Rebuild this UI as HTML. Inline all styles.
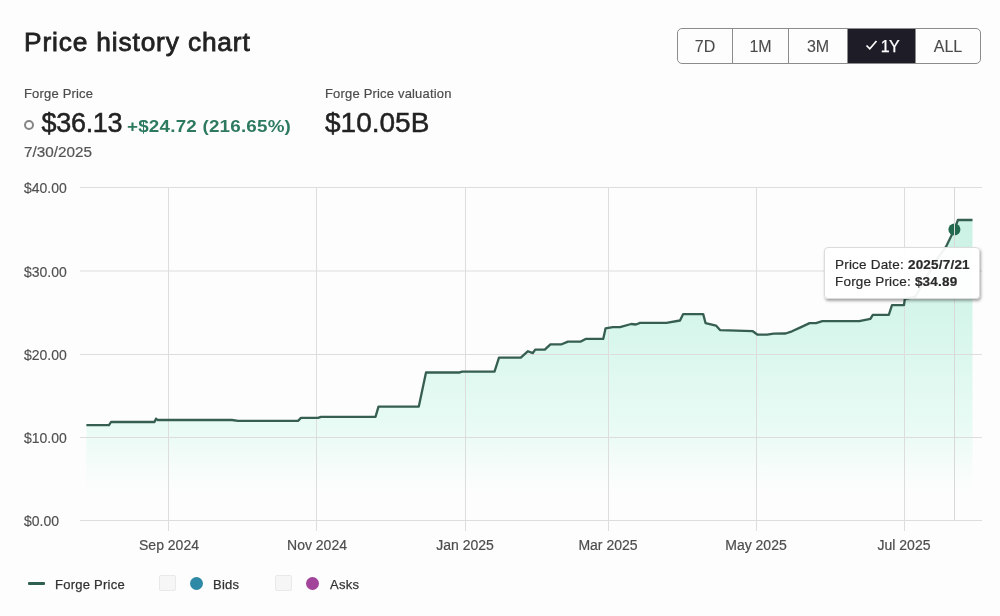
<!DOCTYPE html>
<html><head><meta charset="utf-8">
<style>
*{margin:0;padding:0;box-sizing:border-box}
html,body{width:1000px;height:616px;overflow:hidden;background:#fdfdfd}
body{font-family:"Liberation Sans",Arial,sans-serif;color:#222;position:relative}
.abs{position:absolute;white-space:nowrap}
#title{left:24px;top:25.5px;font-size:26.3px;letter-spacing:0.85px;color:#222;-webkit-text-stroke:0.8px #222;line-height:32px}
.lbl{font-size:13px;letter-spacing:0.18px;color:#4d4d4d;line-height:16px;-webkit-text-stroke:0.2px #4d4d4d}
#fp{left:24px;top:86px}
#fpv{left:325px;top:86px}
#ring{left:24px;top:120px;width:10px;height:10px;border:2px solid #858585;border-radius:50%}
#price{left:41.5px;top:107px;letter-spacing:-0.3px;font-size:27px;line-height:32px;color:#222;-webkit-text-stroke:0.5px #222}
#chg{left:127px;top:116px;font-size:17px;letter-spacing:0.2px;transform:scaleX(1.105);transform-origin:0 0;font-weight:700;color:#2d7a5e;line-height:22px}
#val{left:325px;top:107px;font-size:28px;line-height:32px;color:#222;-webkit-text-stroke:0.5px #222}
#date{left:24px;top:144.3px;font-size:14px;transform:scaleX(1.09);transform-origin:0 0;-webkit-text-stroke:0.2px #555;color:#555;line-height:16px}
#btns{left:677px;top:28px;height:36px;display:flex;border:1px solid #8c8c8c;border-radius:5px;overflow:hidden}
#btns div{height:34px;line-height:35px;text-align:center;font-size:16px;color:#4a4a4a;border-right:1px solid #8c8c8c;-webkit-text-stroke:0.1px #4a4a4a}
#btns div:last-child{border-right:none}
#btns .on{background:#1d1c27;color:#fff;-webkit-text-stroke:0.25px #fff;position:relative}
svg{position:absolute;left:0;top:0}
.yl{font-size:14px;fill:#505050;stroke:#505050;stroke-width:0.15px}
.xl{font-size:14px;fill:#4d4d4d;stroke:#4d4d4d;stroke-width:0.2px}
#tip{left:824px;top:247px;width:156px;height:52px;background:rgba(255,255,255,0.93);border:1px solid #dcdcdc;border-radius:4px;box-shadow:1px 2px 3px rgba(0,0,0,0.35);font-size:13.5px;letter-spacing:0.2px;color:#2a2a2a;padding:8px 0 0 10px;line-height:17px;-webkit-text-stroke:0.2px #2a2a2a}
.leg{font-size:13px;letter-spacing:0.25px;color:#333;line-height:16px;-webkit-text-stroke:0.25px #333}
.cb{width:17px;height:16px;border:1.5px solid #e9e9e9;border-radius:2px;background:#f6f6f6}
.dot{width:13px;height:13px;border-radius:50%}
</style></head><body>
<div id="title" class="abs">Price history chart</div>
<div id="btns" class="abs"><div style="width:55px">7D</div><div style="width:56px">1M</div><div style="width:59px">3M</div><div class="on" style="width:68px;padding-left:17px"><span style="letter-spacing:-0.6px">1Y</span><svg width="14" height="12" viewBox="0 0 14 12" style="position:absolute;left:17px;top:9.5px"><polyline points="1.5,6.5 4.8,9.8 11.5,2" fill="none" stroke="#fff" stroke-width="1.7"/></svg></div><div style="width:64px">ALL</div></div>
<div id="fp" class="abs lbl">Forge Price</div>
<div id="fpv" class="abs lbl">Forge Price valuation</div>
<div id="ring" class="abs"></div>
<div id="price" class="abs">$36.13</div>
<div id="chg" class="abs">+$24.72 (216.65%)</div>
<div id="val" class="abs">$10.05B</div>
<div id="date" class="abs">7/30/2025</div>
<svg width="1000" height="616" viewBox="0 0 1000 616">
<defs><linearGradient id="g" x1="0" y1="219" x2="0" y2="495" gradientUnits="userSpaceOnUse">
<stop offset="0" stop-color="rgb(203,242,228)"/>
<stop offset="0.40" stop-color="rgb(215,246,236)"/>
<stop offset="0.746" stop-color="rgb(232,251,245)"/>
<stop offset="0.837" stop-color="rgb(240,251,247)"/>
<stop offset="0.909" stop-color="rgb(247,253,251)"/>
<stop offset="1" stop-color="rgb(253,253,253)"/></linearGradient></defs>

<path d="M86.4,425.1 L109,425.1 L111,422 L154.5,422 L156,418.6 L157.5,420 L232,420 L238,420.8 L298,420.8 L301,417.9 L318,417.9 L321,416.9 L375.5,416.9 L378.5,406.6 L418.8,406.6 L426,372.5 L459.6,372.5 L462,371.6 L494.5,371.6 L499,357.6 L520.8,357.6 L528,351.2 L532.8,353.1 L535.2,349.6 L544.8,349.6 L550.4,344.3 L561.6,344.3 L568,341.6 L580.8,341.6 L585.6,338.9 L603.2,338.9 L605.6,328.3 L612.8,327.2 L620,327.2 L631.2,324 L636,324.5 L640,322.9 L666.4,322.9 L680,320.5 L683.2,314.1 L703.2,314.1 L705.6,323.2 L716,325.6 L720,330.1 L752.8,331.2 L757.6,334.7 L767.2,334.7 L773.6,333.6 L785.6,333.5 L792,331.3 L800,327.6 L809.6,323.1 L816,323.1 L822.4,321.2 L859.2,321.2 L870.4,318.8 L872.8,314.8 L888.8,314.8 L892,305.2 L904,305.2 L904.8,298.8 L915,297 L925,280 L935,262 L946,246.7 L954.4,229.6 L957.9,220 L972.5,220 L972.5,520.4 L86.4,520.4 Z" fill="url(#g)"/>
<g stroke="#dddddd" stroke-width="1">
<line x1="80" y1="187.5" x2="982" y2="187.5"/>
<line x1="80" y1="271" x2="982" y2="271"/>
<line x1="80" y1="354.5" x2="982" y2="354.5"/>
<line x1="80" y1="437.5" x2="982" y2="437.5"/>
<line x1="80" y1="520.5" x2="982" y2="520.5"/>
<line x1="168.5" y1="187" x2="168.5" y2="531"/>
<line x1="316.5" y1="187" x2="316.5" y2="531"/>
<line x1="465.5" y1="187" x2="465.5" y2="531"/>
<line x1="608.5" y1="187" x2="608.5" y2="531"/>
<line x1="756.5" y1="187" x2="756.5" y2="531"/>
<line x1="904.5" y1="187" x2="904.5" y2="531"/>
</g>
<path d="M86.4,425.1 L109,425.1 L111,422 L154.5,422 L156,418.6 L157.5,420 L232,420 L238,420.8 L298,420.8 L301,417.9 L318,417.9 L321,416.9 L375.5,416.9 L378.5,406.6 L418.8,406.6 L426,372.5 L459.6,372.5 L462,371.6 L494.5,371.6 L499,357.6 L520.8,357.6 L528,351.2 L532.8,353.1 L535.2,349.6 L544.8,349.6 L550.4,344.3 L561.6,344.3 L568,341.6 L580.8,341.6 L585.6,338.9 L603.2,338.9 L605.6,328.3 L612.8,327.2 L620,327.2 L631.2,324 L636,324.5 L640,322.9 L666.4,322.9 L680,320.5 L683.2,314.1 L703.2,314.1 L705.6,323.2 L716,325.6 L720,330.1 L752.8,331.2 L757.6,334.7 L767.2,334.7 L773.6,333.6 L785.6,333.5 L792,331.3 L800,327.6 L809.6,323.1 L816,323.1 L822.4,321.2 L859.2,321.2 L870.4,318.8 L872.8,314.8 L888.8,314.8 L892,305.2 L904,305.2 L904.8,298.8 L915,297 L925,280 L935,262 L946,246.7 L954.4,229.6 L957.9,220 L972.5,220" fill="none" stroke="#365f51" stroke-width="2.3" stroke-linejoin="round"/>
<circle cx="954.4" cy="229.6" r="6" fill="#23694f"/>
<line x1="954.5" y1="187" x2="954.5" y2="520" stroke="#d8d8d8"/>

<g class="yl">
<text x="24" y="193.3">$40.00</text>
<text x="24" y="276.5">$30.00</text>
<text x="24" y="359.7">$20.00</text>
<text x="24" y="443">$10.00</text>
<text x="24" y="525.8">$0.00</text>
</g>
<g class="xl" text-anchor="middle">
<text x="169" y="549.5">Sep 2024</text>
<text x="317" y="549.5">Nov 2024</text>
<text x="465" y="549.5">Jan 2025</text>
<text x="608" y="549.5">Mar 2025</text>
<text x="756" y="549.5">May 2025</text>
<text x="904" y="549.5">Jul 2025</text>
</g>
</svg>
<div id="tip" class="abs">Price Date: <b>2025/7/21</b><br>Forge Price: <b>$34.89</b></div>
<div class="abs" style="left:28px;top:582.3px;width:17px;height:2.5px;background:#2f5f51;border-radius:1px"></div>
<div class="abs leg" style="left:55px;top:577px">Forge Price</div>
<div class="abs cb" style="left:159px;top:575px"></div>
<div class="abs dot" style="left:190px;top:577px;background:#2e89a6"></div>
<div class="abs leg" style="left:213px;top:577px">Bids</div>
<div class="abs cb" style="left:275px;top:575px"></div>
<div class="abs dot" style="left:306px;top:577px;background:#a2449a"></div>
<div class="abs leg" style="left:330px;top:577px">Asks</div>
</body></html>
